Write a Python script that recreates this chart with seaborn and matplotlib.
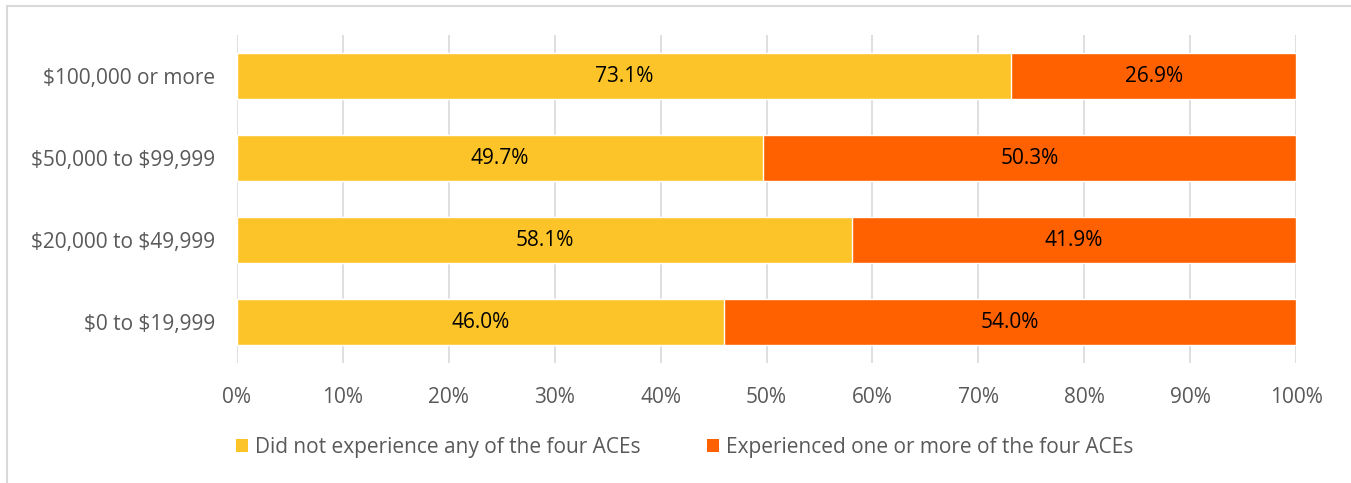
import matplotlib
matplotlib.use("Agg")
import matplotlib.pyplot as plt
import seaborn as sns
import pandas as pd
from matplotlib.patches import Rectangle, Patch

categories = ["$100,000 or more", "$50,000 to $99,999", "$20,000 to $49,999", "$0 to $19,999"]
no_aces = [73.1, 49.7, 58.1, 46.0]
one_or_more = [26.9, 50.3, 41.9, 54.0]
series_names = ["Did not experience any of the four ACEs", "Experienced one or more of the four ACEs"]
tick_values = [0, 10, 20, 30, 40, 50, 60, 70, 80, 90, 100]
tick_labels = [f"{v}%" for v in tick_values]

YELLOW = "#FDC42A"
ORANGE = "#FF6100"
GRAY_TEXT = "#595959"
GRID = "#D9D9D9"
FS = 15

sns.set_theme(style="white")
plt.rcParams["font.family"] = ["Open Sans", "DejaVu Sans"]

df = pd.DataFrame({"cat": categories, "a": no_aces, "b": one_or_more})
df["total"] = df["a"] + df["b"]

fig = plt.figure(figsize=(13.51, 4.83), dpi=100)
ax = fig.add_axes([237/1351, 1-363/483, (1296-237)/1351, (363-35)/483])

sns.barplot(data=df, y="cat", x="total", order=categories, color=ORANGE, orient="h",
            width=0.573, saturation=1, ax=ax, zorder=3)
sns.barplot(data=df, y="cat", x="a", order=categories, color=YELLOW, orient="h",
            width=0.573, saturation=1, ax=ax, zorder=3)

for i, (a, b) in enumerate(zip(no_aces, one_or_more)):
    ax.text(a/2, i, f"{a:.1f}%", ha="center", va="center", fontsize=FS, color="black", zorder=4)
    ax.text(a + b/2, i, f"{b:.1f}%", ha="center", va="center", fontsize=FS, color="black", zorder=4)

ax.set_xlim(0, 100)
ax.set_ylim(3.5, -0.5)
ax.set_xticks(tick_values)
ax.set_xticklabels(tick_labels, fontsize=FS, color=GRAY_TEXT)
ax.set_yticks(range(len(categories)))
ax.set_yticklabels(categories, fontsize=FS, color=GRAY_TEXT)
for t in ax.get_yticklabels():
    t.set_parse_math(False)
ax.tick_params(axis="x", length=0, pad=17)
ax.tick_params(axis="y", length=0, pad=16)
ax.set_xlabel("")
ax.set_ylabel("")
for s in ax.spines.values():
    s.set_visible(False)
ax.grid(axis="x", color=GRID, linewidth=1.2, zorder=0)
ax.set_axisbelow(True)

handles = [Patch(facecolor=YELLOW, edgecolor="none"), Patch(facecolor=ORANGE, edgecolor="none")]
fig.legend(handles, series_names, loc="center", bbox_to_anchor=(684.5/1351, 1-447/483), ncol=2,
           frameon=False, fontsize=FS, labelcolor=GRAY_TEXT, handlelength=0.6, handleheight=0.6,
           handletextpad=0.3, columnspacing=3.2, borderpad=0, borderaxespad=0)

fig.patches.append(Rectangle((7/1351, -0.1), 1.2, 1-5.5/483+0.1, transform=fig.transFigure,
                             fill=False, edgecolor=GRID, linewidth=1.5))

fig.savefig("out.png", dpi=100)
